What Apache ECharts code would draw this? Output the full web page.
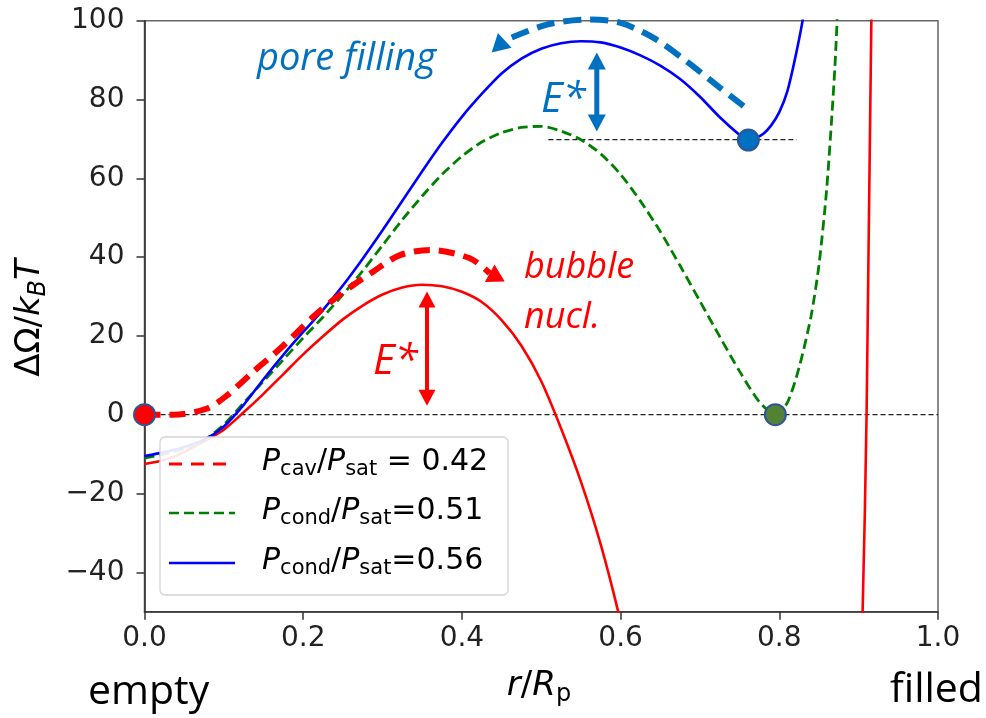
<!DOCTYPE html>
<html><head><meta charset="utf-8">
<script src="https://cdn.jsdelivr.net/npm/echarts@6/dist/echarts.min.js"></script>
<style>html,body{margin:0;padding:0;background:#fff}#c{width:986px;height:718px}</style>
</head><body><div id="c"></div>
<script>
// ---------------- data ----------------
const xTicks = [0, 0.2, 0.4, 0.6, 0.8, 1.0];
const yTicks = [-40, -20, 0, 20, 40, 60, 80, 100];

// P_cond/P_sat = 0.56 (blue solid)
const blueX = [0.0, 0.025, 0.05, 0.075, 0.1, 0.125, 0.15, 0.175, 0.2, 0.225, 0.25, 0.275, 0.3, 0.325, 0.35, 0.375, 0.4, 0.425, 0.45, 0.475, 0.5, 0.525, 0.55, 0.575, 0.6, 0.625, 0.65, 0.675, 0.7, 0.725, 0.75, 0.76, 0.77, 0.78, 0.79, 0.8, 0.81, 0.82, 0.83, 0.84];
const blueY = [-10.5, -9.5, -8.2, -6.4, -3.0, 2.5, 9.0, 15.2, 21.0, 26.6, 32.8, 39.6, 46.8, 54.3, 61.8, 69.0, 75.6, 81.4, 86.6, 90.4, 92.9, 94.3, 94.8, 94.5, 93.2, 91.2, 88.6, 85.2, 80.7, 75.5, 71.0, 69.7, 70.2, 71.3, 73.5, 76.8, 82.0, 90.5, 100.8, 115];

// P_cond/P_sat = 0.51 (green dashed)
const greenX = [0.0, 0.025, 0.05, 0.075, 0.1, 0.125, 0.15, 0.175, 0.2, 0.225, 0.25, 0.275, 0.3, 0.325, 0.35, 0.375, 0.4, 0.425, 0.45, 0.475, 0.5, 0.525, 0.55, 0.575, 0.6, 0.625, 0.65, 0.675, 0.7, 0.725, 0.75, 0.775, 0.795, 0.81, 0.825, 0.84, 0.85, 0.86, 0.87, 0.875, 0.88];
const greenY = [-11.0, -10.0, -8.6, -6.5, -2.5, 3.0, 8.5, 14.0, 19.5, 24.8, 30.5, 36.5, 43.0, 49.5, 55.5, 61.0, 65.6, 69.2, 71.6, 72.9, 73.2, 72.0, 69.8, 66.2, 61.0, 54.2, 46.5, 37.8, 28.8, 19.8, 11.0, 3.2, 0.0, 3.0, 12.0, 25.0, 38.0, 58.0, 88.0, 110, 130];

// P_cav/P_sat = 0.42 (red solid)
const redX = [0.0, 0.025, 0.05, 0.075, 0.1, 0.125, 0.15, 0.175, 0.2, 0.225, 0.25, 0.275, 0.3, 0.325, 0.35, 0.375, 0.4, 0.425, 0.45, 0.475, 0.5, 0.525, 0.55, 0.575, 0.6, 0.625, 0.65, 0.7, 0.8, 0.86, 0.89, 0.9, 0.905, 0.91, 0.916, 0.92];
const redY = [-12.5, -11.5, -9.5, -6.8, -3.8, 0.6, 5.3, 10.3, 15.3, 19.9, 24.2, 27.7, 30.5, 32.3, 33.0, 32.6, 31.2, 28.6, 24.0, 17.5, 8.5, -3.5, -17.0, -33.0, -52.5, -75, -110, -160, -200, -170, -110, -75, -50, 0, 100, 130];

// annotation paths
const cavArrowX = [0.0, 0.036, 0.078, 0.104, 0.137, 0.171, 0.213, 0.246, 0.288, 0.322, 0.36, 0.41, 0.435];
const cavArrowY = [0.0, 0.0, 1.5, 4.9, 10.9, 16.8, 24.9, 30.4, 36.3, 40.5, 41.8, 39.7, 35.9];
const cavHead = [0.454, 33.8, 0.435, 35.9];   // tip x, tip y, base x, base y

const fillArrowX = [0.755, 0.725, 0.683, 0.641, 0.599, 0.557, 0.507, 0.454];
const fillArrowY = [78.3, 83.0, 89.7, 95.7, 99.5, 100.3, 99.0, 95.0];
const fillHead = [0.4375, 91.9, 0.454, 95.0];

const barrierRed = [0.356, 31.3, 2.3];   // x, top, bottom
const barrierBlue = [0.570, 91.9, 71.9];

const zeroLineX = [0, 1];
const zeroLineY = [0, 0];
const minLineX = [0.509, 0.822];
const minLineY = [69.8, 69.8];

const dotX = [0, 0.761, 0.795];
const dotY = [0, 69.7, 0];
const dotColors = ['#FF0000', '#0070C0', '#548235'];

const legendLabels = [
  '{i|P}{s|cav}{n|/}{i|P}{s|sat}{n| = 0.42}',
  '{i|P}{s|cond}{n|/}{i|P}{s|sat}{n|=0.51}',
  '{i|P}{s|cond}{n|/}{i|P}{s|sat}{n|=0.56}'
];

// ---------------- chart ----------------
const pairs = (xs, ys) => xs.map((x, i) => [x, ys[i]]);
const chart = echarts.init(document.getElementById('c'), null, {renderer: 'canvas'});
const MATH = 'DejaVu Sans';
const CAL = 'Open Sans';

function headSeries(head, color) {
  return {
    type: 'custom', z: 6, silent: true, clip: false,
    data: [head],
    renderItem: (params, api) => {
      const tip = api.coord([api.value(0), api.value(1)]);
      const base = api.coord([api.value(2), api.value(3)]);
      const dx = tip[0] - base[0], dy = tip[1] - base[1];
      const len = Math.hypot(dx, dy) || 1;
      const ux = dx / len, uy = dy / len;
      const w = 10;
      return {
        type: 'polygon',
        shape: {points: [tip, [base[0] - uy * w, base[1] + ux * w], [base[0] + uy * w, base[1] - ux * w]]},
        style: {fill: color}
      };
    }
  };
}
function doubleArrow(item, color, shaftW, headL, headW) {
  return {
    type: 'custom', z: 6, silent: true, clip: false,
    data: [item],
    renderItem: (params, api) => {
      const t = api.coord([api.value(0), api.value(1)]);
      const b = api.coord([api.value(0), api.value(2)]);
      return {
        type: 'group',
        children: [
          {type: 'line', shape: {x1: t[0], y1: t[1] + headL - 1, x2: b[0], y2: b[1] - headL + 1}, style: {stroke: color, lineWidth: shaftW}},
          {type: 'polygon', shape: {points: [[t[0], t[1]], [t[0] - headW / 2, t[1] + headL], [t[0] + headW / 2, t[1] + headL]]}, style: {fill: color}},
          {type: 'polygon', shape: {points: [[b[0], b[1]], [b[0] - headW / 2, b[1] - headL], [b[0] + headW / 2, b[1] - headL]]}, style: {fill: color}}
        ]
      };
    }
  };
}

const minus = v => (v < 0 ? '\u2212' + Math.abs(v) : String(v));

const richMain = (size) => ({
  i: {fontFamily: MATH, fontStyle: 'italic', fontSize: size, color: '#222'},
  n: {fontFamily: MATH, fontSize: size, color: '#222'},
  s: {fontFamily: MATH, fontSize: Math.round(size * 0.7), color: '#222', padding: [Math.round(size * 0.5), 0, 0, 0]},
  si: {fontFamily: MATH, fontStyle: 'italic', fontSize: Math.round(size * 0.7), color: '#222', padding: [Math.round(size * 0.5), 0, 0, 0]}
});

const legendRowsY = [464, 513, 563];
const legendStyles = [
  {stroke: '#FF0000', lineWidth: 3, lineDash: [13, 9]},
  {stroke: '#008000', lineWidth: 2.6, lineDash: [10, 5]},
  {stroke: '#0000FF', lineWidth: 2.6}
];
const graphics = [
  {type: 'rect', z: 100, shape: {x: 160, y: 437, width: 348, height: 158, r: 5},
   style: {fill: 'rgba(255,255,255,0.9)', stroke: '#d4d4d4', lineWidth: 1.3}}
];
legendLabels.forEach((lab, k) => {
  graphics.push({type: 'line', z: 101, shape: {x1: 169, y1: legendRowsY[k], x2: 235, y2: legendRowsY[k]}, style: legendStyles[k]});
  graphics.push({type: 'text', z: 101, x: 262, y: legendRowsY[k] - 2,
    style: {text: lab, rich: richMain(30), verticalAlign: 'middle', align: 'left'}});
});
// axis names
graphics.push({type: 'text', z: 101, x: 30, y: 318, rotation: Math.PI / 2,
  style: {text: '{n|\u0394\u03A9/}{i|k}{si|B}{i|T}', rich: richMain(34), align: 'center', verticalAlign: 'middle'}});
graphics.push({type: 'text', z: 101, x: 539, y: 686,
  style: {text: '{i|r}{n|/}{i|R}{s|p}', rich: richMain(34), align: 'center', verticalAlign: 'middle'}});
// annotation texts
const annText = (txt, x, y, size, color, italic, lh) => ({
  type: 'text', z: 110, x, y,
  style: {text: txt, fontFamily: CAL, fontSize: size, fontStyle: italic ? 'italic' : 'normal', fill: color,
          align: 'left', verticalAlign: 'middle', lineHeight: lh || size}
});
graphics.push(annText('pore filling', 257, 59, 38, '#0070C0', true));
graphics.push(annText('E*', 541, 100, 42, '#0070C0', true));
graphics.push(annText('bubble\nnucl.', 524, 293, 36, '#FF0000', true, 50));
graphics.push(annText('E*', 373, 362, 42, '#FF0000', true));
graphics.push(annText('empty', 88, 692, 41, '#000000', false));
graphics.push(annText('filled', 890, 690, 41, '#000000', false));

const option = {
  animation: false,
  backgroundColor: '#ffffff',
  grid: {left: 144.5, right: 48, top: 20.7, bottom: 106.3, show: true, borderColor: '#666', borderWidth: 1.5, backgroundColor: 'transparent'},
  xAxis: {
    type: 'value', min: 0, max: 1, interval: 0.2,
    axisLine: {show: true, onZero: false, lineStyle: {color: '#333', width: 1.6}},
    axisTick: {show: true, inside: false, length: 8, lineStyle: {color: '#333', width: 1.5}, customValues: xTicks},
    axisLabel: {fontFamily: MATH, fontSize: 28, color: '#222', margin: 13, customValues: xTicks, formatter: v => v.toFixed(1)},
    splitLine: {show: false}
  },
  yAxis: {
    type: 'value', min: -50, max: 100,
    axisLine: {show: true, onZero: false, lineStyle: {color: '#333', width: 1.6}},
    axisTick: {show: true, inside: false, length: 8, lineStyle: {color: '#333', width: 1.5}, customValues: yTicks},
    axisLabel: {fontFamily: MATH, fontSize: 28, color: '#222', margin: 20, customValues: yTicks, formatter: minus},
    splitLine: {show: false}
  },
  series: [
    {type: 'line', name: 'zero', data: pairs(zeroLineX, zeroLineY), showSymbol: false, silent: true, z: 1,
     lineStyle: {color: '#222', width: 1.2, type: [5, 3]}},
    {type: 'line', name: 'min', data: pairs(minLineX, minLineY), showSymbol: false, silent: true, z: 1,
     lineStyle: {color: '#222', width: 1.2, type: [5, 3]}},
    {type: 'line', name: 'red', data: pairs(redX, redY), showSymbol: false, smooth: 0.25, z: 2,
     lineStyle: {color: '#FF0000', width: 2.6}},
    {type: 'line', name: 'green', data: pairs(greenX, greenY), showSymbol: false, smooth: 0.25, z: 2,
     lineStyle: {color: '#008000', width: 2.8, type: [10, 5]}},
    {type: 'line', name: 'blue', data: pairs(blueX, blueY), showSymbol: false, smooth: 0.25, z: 2,
     lineStyle: {color: '#0000FF', width: 2.6}},
    {type: 'line', name: 'cavArrow', data: pairs(cavArrowX, cavArrowY), showSymbol: false, smooth: 0.3, z: 4, clip: false,
     lineStyle: {color: '#FF0000', width: 6, type: [16, 9]}},
    {type: 'line', name: 'fillArrow', data: pairs(fillArrowX, fillArrowY), showSymbol: false, smooth: 0.3, z: 4, clip: false,
     lineStyle: {color: '#0070C0', width: 6, type: [18, 9]}},
    headSeries(cavHead, '#FF0000'),
    headSeries(fillHead, '#0070C0'),
    doubleArrow(barrierRed, '#FF0000', 4, 16, 17),
    doubleArrow(barrierBlue, '#0070C0', 5, 17, 18),
    {type: 'scatter', name: 'dots', z: 8, symbolSize: 21, clip: false,
     data: dotX.map((x, i) => ({value: [x, dotY[i]], itemStyle: {color: dotColors[i]}})),
     itemStyle: {borderColor: '#2F5597', borderWidth: 2, opacity: 1}}
  ],
  graphic: graphics
};
chart.setOption(option);
</script>
</body></html>
